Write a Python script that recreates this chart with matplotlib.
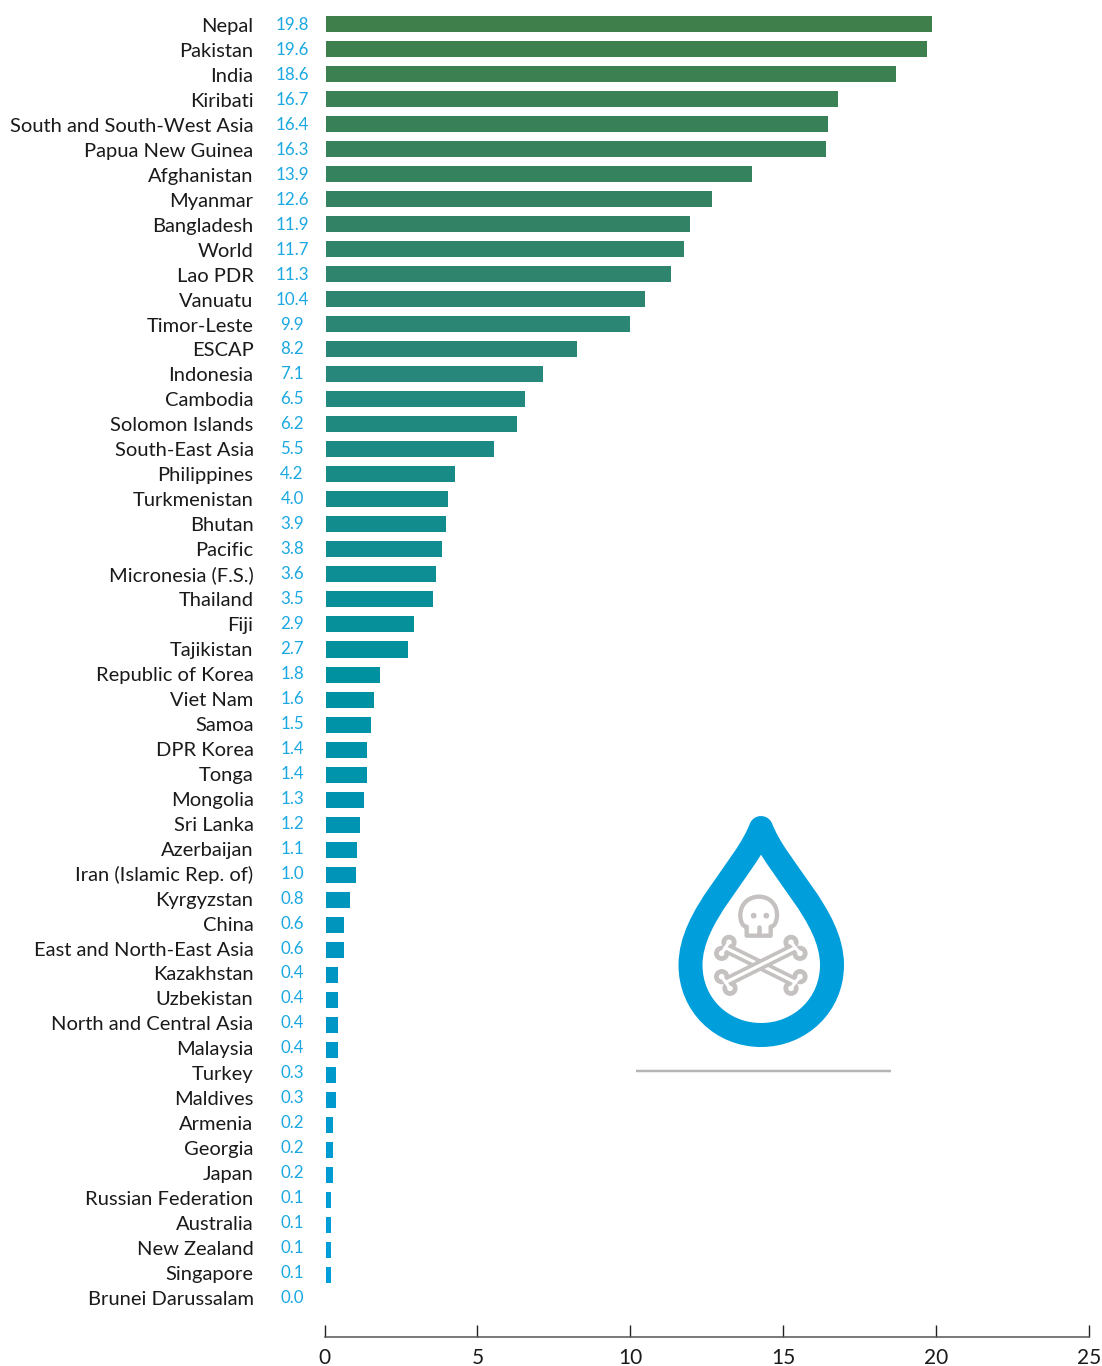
import matplotlib
matplotlib.use('Agg')
import matplotlib.pyplot as plt
from matplotlib.colors import LinearSegmentedColormap
from matplotlib.path import Path
from matplotlib.patches import PathPatch, Circle
import numpy as np

countries = ['Nepal', 'Pakistan', 'India', 'Kiribati', 'South and South-West Asia',
             'Papua New Guinea', 'Afghanistan', 'Myanmar', 'Bangladesh', 'World',
             'Lao PDR', 'Vanuatu', 'Timor-Leste', 'ESCAP', 'Indonesia', 'Cambodia',
             'Solomon Islands', 'South-East Asia', 'Philippines', 'Turkmenistan',
             'Bhutan', 'Pacific', 'Micronesia (F.S.)', 'Thailand', 'Fiji', 'Tajikistan',
             'Republic of Korea', 'Viet Nam', 'Samoa', 'DPR Korea', 'Tonga', 'Mongolia',
             'Sri Lanka', 'Azerbaijan', 'Iran (Islamic Rep. of)', 'Kyrgyzstan', 'China',
             'East and North-East Asia', 'Kazakhstan', 'Uzbekistan',
             'North and Central Asia', 'Malaysia', 'Turkey', 'Maldives', 'Armenia',
             'Georgia', 'Japan', 'Russian Federation', 'Australia', 'New Zealand',
             'Singapore', 'Brunei Darussalam']
# подписи как напечатаны
value_labels = ['19.8', '19.6', '18.6', '16.7', '16.4', '16.3', '13.9', '12.6', '11.9', '11.7',
                '11.3', '10.4', '9.9', '8.2', '7.1', '6.5', '6.2', '5.5', '4.2', '4.0',
                '3.9', '3.8', '3.6', '3.5', '2.9', '2.7', '1.8', '1.6', '1.5', '1.4',
                '1.4', '1.3', '1.2', '1.1', '1.0', '0.8', '0.6', '0.6', '0.4', '0.4',
                '0.4', '0.4', '0.3', '0.3', '0.2', '0.2', '0.2', '0.1', '0.1', '0.1',
                '0.1', '0.0']
# длины столбцов (чуть точнее подписей)
bar_lengths = [19.81, 19.63, 18.63, 16.73, 16.4, 16.32, 13.9, 12.62, 11.9, 11.7, 11.27, 10.41,
               9.91, 8.2, 7.07, 6.5, 6.22, 5.48, 4.19, 3.98, 3.9, 3.79, 3.59, 3.49, 2.86, 2.68,
               1.75, 1.57, 1.44, 1.34, 1.34, 1.23, 1.1, 1.01, 0.95, 0.77, 0.56, 0.56, 0.39,
               0.39, 0.39, 0.39, 0.31, 0.31, 0.21, 0.21, 0.21, 0.16, 0.16, 0.16, 0.16, 0.0]
x_ticks = [0, 5, 10, 15, 20, 25]

bar_stops = ['#3f7f4b', '#2a8676', '#00919f', '#0096c4', '#009fdc']
LABEL_BLUE = '#1ba8e2'
ICON_BLUE = '#009fdc'
ICON_GREY = '#c4c1c0'
FONT = 'Lato'

W, H = 1102, 1366
ROW_PX = 25.02
TOP_PX = 24
fig = plt.figure(figsize=(W / 100, H / 100), dpi=100)

# оси подогнаны под пиксели оригинала
ax = fig.add_axes([324.5 / W, (H - 1337) / H, (1089 - 324.5) / W, 1337 / H])
ax.set_xlim(0, 25)
ax.set_ylim((1337 - TOP_PX) / ROW_PX, -TOP_PX / ROW_PX)

cmap = LinearSegmentedColormap.from_list('bars', bar_stops)
rows = np.arange(len(countries))
colors = cmap(rows / (len(rows) - 1))
# столбцы в оригинале смещены от нуля примерно на 2 пикселя
ax.barh(rows, bar_lengths, left=0.065, height=0.64, color=colors)

for i in rows:
    # базовые линии подписей идут с шагом чуть меньше шага столбцов
    ax.text(-2.32, (32 + 24.96 * i - TOP_PX) / ROW_PX, countries[i], ha='right', va='baseline',
            fontsize=14.5, family=FONT, color='#1a1a1a')
    ax.text(-1.06, (30 + 24.96 * i - TOP_PX) / ROW_PX, value_labels[i], ha='center', va='baseline',
            fontsize=12.2, family=FONT, color=LABEL_BLUE)

for s in ['top', 'left', 'right']:
    ax.spines[s].set_visible(False)
ax.spines['bottom'].set_color('#555555')
ax.spines['bottom'].set_linewidth(1.1)
ax.set_yticks([])
ax.set_xticks(x_ticks)
ax.tick_params(axis='x', direction='in', length=8.5, width=1, color='#222222', pad=8,
               labelsize=15, labelcolor='#1a1a1a')
for t in ax.get_xticklabels():
    t.set_family(FONT)

# значок поверх графика, координаты в пикселях
icon = fig.add_axes([0, 0, 1, 1], facecolor='none')
icon.set_xlim(0, W)
icon.set_ylim(H, 0)
icon.axis('off')

px = 72 / 100  # пиксель в пунктах
C = Path.CURVE4
drop = Path([(761, 828), (745, 870), (690.5, 915), (690.5, 965),
             (690.5, 1005), (722, 1035), (761, 1035),
             (800, 1035), (832, 1005), (832, 965),
             (832, 915), (777, 870), (761, 828), (761, 828)],
            [Path.MOVETO, C, C, C, C, C, C, C, C, C, C, C, C, Path.CLOSEPOLY])
icon.add_patch(PathPatch(drop, fc='white', ec=ICON_BLUE, lw=24 * px, joinstyle='round'))

icon.plot([636, 891], [1071, 1071], color='#b5b5b5', lw=2.5 * px, solid_capstyle='butt')


def z(x, y):
    # из координат увеличенного кропа в пиксели
    return 705 + x / 3, 885 + y / 3


def bone(a, b, knobs):
    xa, ya = z(*a)
    xb, yb = z(*b)
    centers = [z(*k) for k in knobs]
    for c in centers:
        icon.add_patch(Circle(c, 7.6, fc=ICON_GREY, ec='none'))
    icon.plot([xa, xb], [ya, yb], color=ICON_GREY, lw=10.5 * px, solid_capstyle='butt')
    for c in centers:
        icon.add_patch(Circle(c, 2.8, fc='white', ec='none'))
    icon.plot([xa, xb], [ya, yb], color='white', lw=3.2 * px, solid_capstyle='round')
    # белые развилки к головкам кости
    ends = [(xa, ya)] * 2 + [(xb, yb)] * 2
    for (ex, ey), (cx, cy) in zip(ends, centers):
        icon.plot([ex, cx], [ey, cy], color='white', lw=3.2 * px, solid_capstyle='round')


bone((61, 188), (271, 292), [(72, 172), (50, 205), (285, 275), (258, 310)])
bone((62, 292), (271, 188), [(50, 275), (75, 310), (258, 172), (285, 205)])

skull = Path([z(125, 152), z(125, 125), z(113, 125), z(106, 110), z(106, 90),
              z(106, 58), z(130, 35), z(162, 35),
              z(194, 35), z(216, 58), z(216, 90),
              z(216, 110), z(208, 125), z(197, 125),
              z(197, 152), z(125, 152), z(125, 152)],
             [Path.MOVETO, Path.LINETO, C, C, C, C, C, C, C, C, C, C, C, C,
              Path.LINETO, Path.LINETO, Path.CLOSEPOLY])
icon.add_patch(PathPatch(skull, fc='white', ec=ICON_GREY, lw=4.3 * px, joinstyle='round'))
for e in [(146, 92), (184, 92)]:
    icon.add_patch(Circle(z(*e), 2.9, fc=ICON_GREY, ec='none'))
icon.plot(*zip(z(163, 126), z(163, 150)), color=ICON_GREY, lw=4.5 * px, solid_capstyle='round')

fig.savefig('out.png', dpi=100)
